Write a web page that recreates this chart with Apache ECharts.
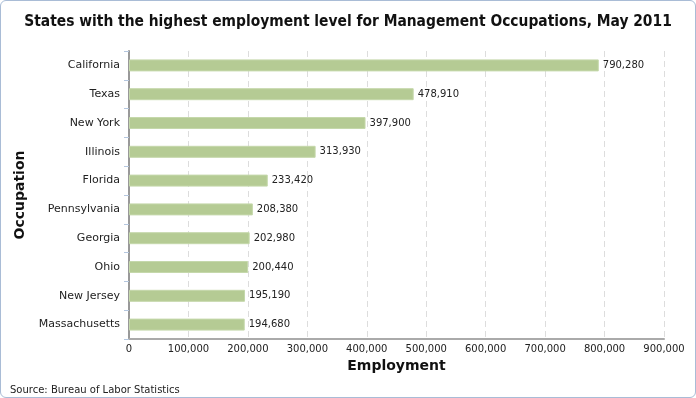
<!DOCTYPE html>
<html>
<head>
<meta charset="utf-8">
<script src="https://cdn.jsdelivr.net/npm/echarts@6/dist/echarts.min.js"></script>
<style>
  html, body { margin: 0; padding: 0; background: #fff; }
  #chart {
    width: 696px; height: 398px; box-sizing: border-box;
    border: 1px solid #a9bcd6; border-radius: 6px;
  }
</style>
</head>
<body>
<div id="chart"></div>
<script>
// states, top to bottom as shown
const states = ["California", "Texas", "New York", "Illinois", "Florida",
  "Pennsylvania", "Georgia", "Ohio", "New Jersey", "Massachusetts"];
const employment = [790280, 478910, 397900, 313930, 233420,
  208380, 202980, 200440, 195190, 194680];

const chart = echarts.init(document.getElementById("chart"));

const fmt = (v) => v.toString().replace(/\B(?=(\d{3})+(?!\d))/g, ",");

chart.setOption({
  animation: false,
  textStyle: { fontFamily: "DejaVu Sans" },
  title: {
    text: "States with the highest employment level for Management Occupations, May 2011",
    left: "center",
    top: 8,
    textStyle: {
      fontFamily: "DejaVu Sans Condensed",
      fontWeight: "bold",
      fontSize: 15.4,
      color: "#111",
    },
  },
  graphic: [
    {
      type: "text",
      left: 9,
      top: 384,
      style: {
        text: "Source: Bureau of Labor Statistics",
        fontFamily: "DejaVu Sans",
        fontSize: 10,
        fill: "#222",
      },
    },
  ],
  grid: {
    left: 128,
    right: 31,
    top: 50,
    bottom: 58,
  },
  xAxis: {
    type: "value",
    min: 0,
    max: 900000,
    interval: 100000,
    name: "Employment",
    nameLocation: "middle",
    nameGap: 16,
    nameTextStyle: {
      fontFamily: "DejaVu Sans",
      fontWeight: "bold",
      fontSize: 14,
      color: "#111",
    },
    axisLine: { show: true, lineStyle: { color: "#aaa", width: 2 } },
    axisTick: { show: false },
    axisLabel: {
      color: "#222",
      fontSize: 10,
      margin: 5,
      formatter: (v) => fmt(v),
    },
    splitLine: {
      show: true,
      lineStyle: { color: "#ddd", type: [6, 4], width: 1 },
    },
  },
  yAxis: {
    type: "category",
    data: states,
    inverse: true,
    name: "Occupation",
    nameLocation: "middle",
    nameGap: 99,
    nameRotate: 90,
    nameTextStyle: {
      fontFamily: "DejaVu Sans",
      fontWeight: "bold",
      fontSize: 14,
      color: "#111",
    },
    axisLine: { show: true, lineStyle: { color: "#999", width: 2 } },
    axisTick: { show: true, length: 5, lineStyle: { color: "#b4c6de" } },
    axisLabel: { color: "#222", fontSize: 11, margin: 9 },
  },
  series: [
    {
      type: "bar",
      data: employment,
      barWidth: 12,
      itemStyle: { color: "#b5cb94", borderColor: "#c5d8ab", borderWidth: 1 },
      label: {
        show: true,
        position: "right",
        distance: 4,
        color: "#222",
        fontSize: 10,
        formatter: (p) => fmt(p.value),
      },
    },
  ],
});
</script>
</body>
</html>
